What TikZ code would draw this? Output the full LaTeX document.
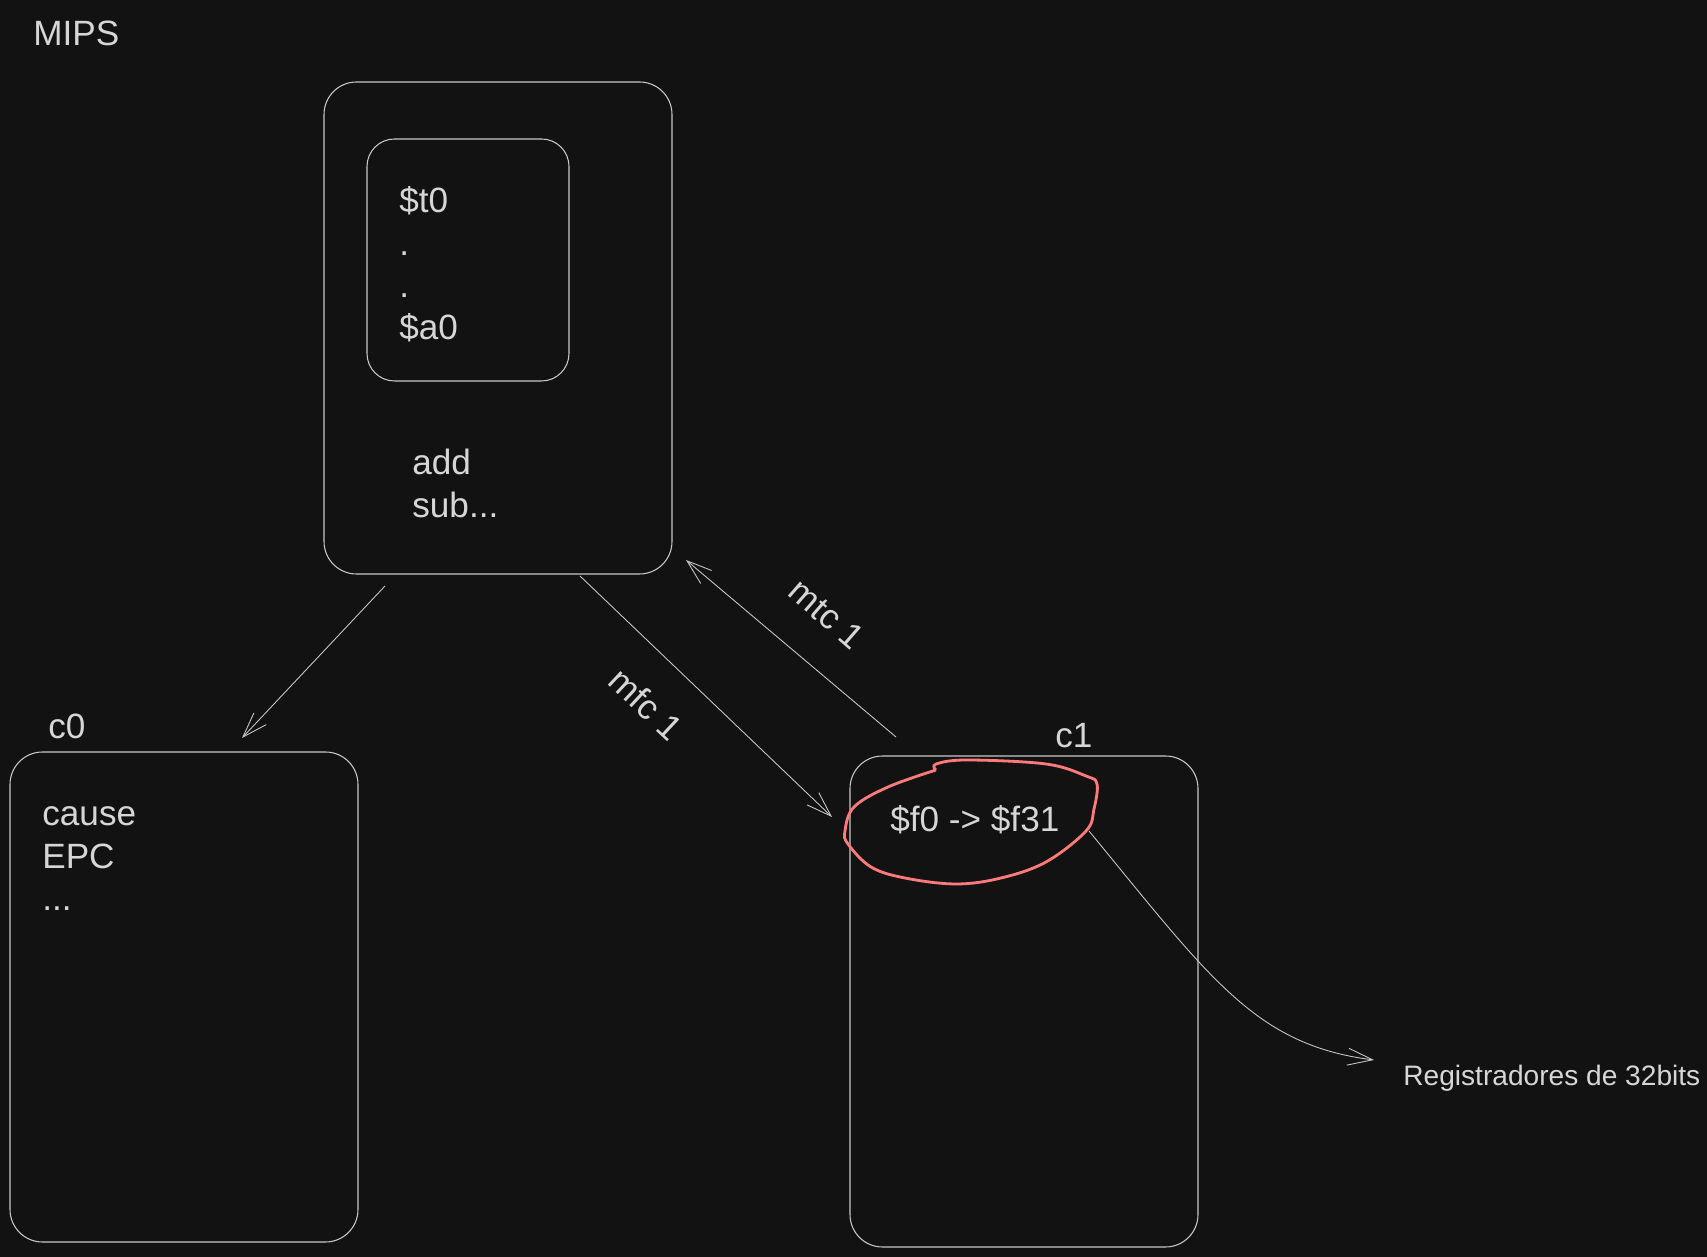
\documentclass[tikz,border=0pt]{standalone}
\usepackage{fontspec}
\setmainfont{Liberation Sans}
\usetikzlibrary{arrows.meta}

\definecolor{bgdark}{HTML}{121212}
\definecolor{inkgray}{HTML}{D6D6D6}
\definecolor{strokegray}{HTML}{C8C8C8}
\definecolor{marker}{HTML}{FF7B7B}

\newcommand{\lines}[1]{\begin{tabular}[t]{@{}l@{}}#1\end{tabular}}

\begin{document}
\begin{tikzpicture}[
    every node/.style={text=inkgray, font=\fontsize{20}{24}\selectfont},
    box/.style={draw=strokegray, line width=0.6pt, rounded corners=0.65cm, inner sep=0pt},
    txt/.style={anchor=base west, inner sep=0pt},
    link/.style={draw=strokegray, line width=0.5pt, line join=round,
      -{Straight Barb[length=5mm, width=3.4mm]}}
  ]
    \fill[bgdark] (0,0) rectangle (34.14,25.14);% page and margins
    \node[txt] (mips) at (0.66,24.22) {MIPS};
    % processor with its register file
    \node[box, minimum width=6.96cm, minimum height=9.84cm] (cpu) at (9.96,18.58) {};
    \node[box, rounded corners=0.55cm, minimum width=4.04cm, minimum height=4.84cm] (regs) at (9.36,19.94) {};
    \node[txt] (reglist) at (7.98,20.88) {\lines{\$t0\\.\\.\\\$a0}};
    \node[txt] (ops) at (8.24,15.64) {\lines{add\\sub...}};
    % coprocessor 0
    \node[txt] (c0) at (0.96,10.36) {c0};
    \node[box, minimum width=6.96cm, minimum height=9.80cm] (cop0) at (3.68,5.20) {};
    \node[txt] (c0regs) at (0.84,8.62) {\lines{cause\\EPC\\...}};
    % coprocessor 1
    \node[txt] (c1) at (21.10,10.18) {c1};
    \node[box, minimum width=6.96cm, minimum height=9.82cm] (cop1) at (20.48,5.11) {};
    \node[txt] (fregs) at (17.80,8.50) {\$f0 -> \$f31};
    \node[txt, font=\fontsize{16}{19}\selectfont] (note) at (28.06,3.42) {Registradores de 32bits};
    % hand drawn ring round the float registers
    \draw[marker, line width=1.6pt, line join=round] plot[smooth, tension=0.6] coordinates {
      (18.72,9.74) (18.72,9.86) (19.34,9.94) (20.92,9.86) (21.72,9.62) (21.94,9.46)
      (21.88,8.96) (21.72,8.52) (20.92,7.90) (20.02,7.58) (19.12,7.46) (18.10,7.58)
      (17.42,7.80) (16.96,8.26) (16.90,8.52) (17.08,9.00) (17.76,9.40) (18.72,9.74)};
    % connector ends
    \coordinate (cpuout) at (7.70,13.42);
    \coordinate (c0in) at (4.84,10.38);
    \coordinate (mfcout) at (11.60,13.62);
    \coordinate (mfcin) at (16.64,8.80);
    \coordinate (mtcout) at (17.92,10.40);
    \coordinate (mtcin) at (13.72,13.94);
    \coordinate (ringout) at (21.78,8.52);
    \coordinate (notein) at (27.48,3.94);
    \draw[link] (cpuout) -- (c0in);
    \draw[link] (mfcout) -- (mfcin);
    \draw[link] (mtcout) -- (mtcin);
    \draw[link] (ringout) .. controls (24.2,5.58) and (25.1,4.24) .. (notein);
    \node[rotate=-43] (mfc) at (12.92,11.06) {mfc 1};
    \node[rotate=-41] (mtc) at (16.54,12.86) {mtc 1};
  \end{tikzpicture}
\end{document}
